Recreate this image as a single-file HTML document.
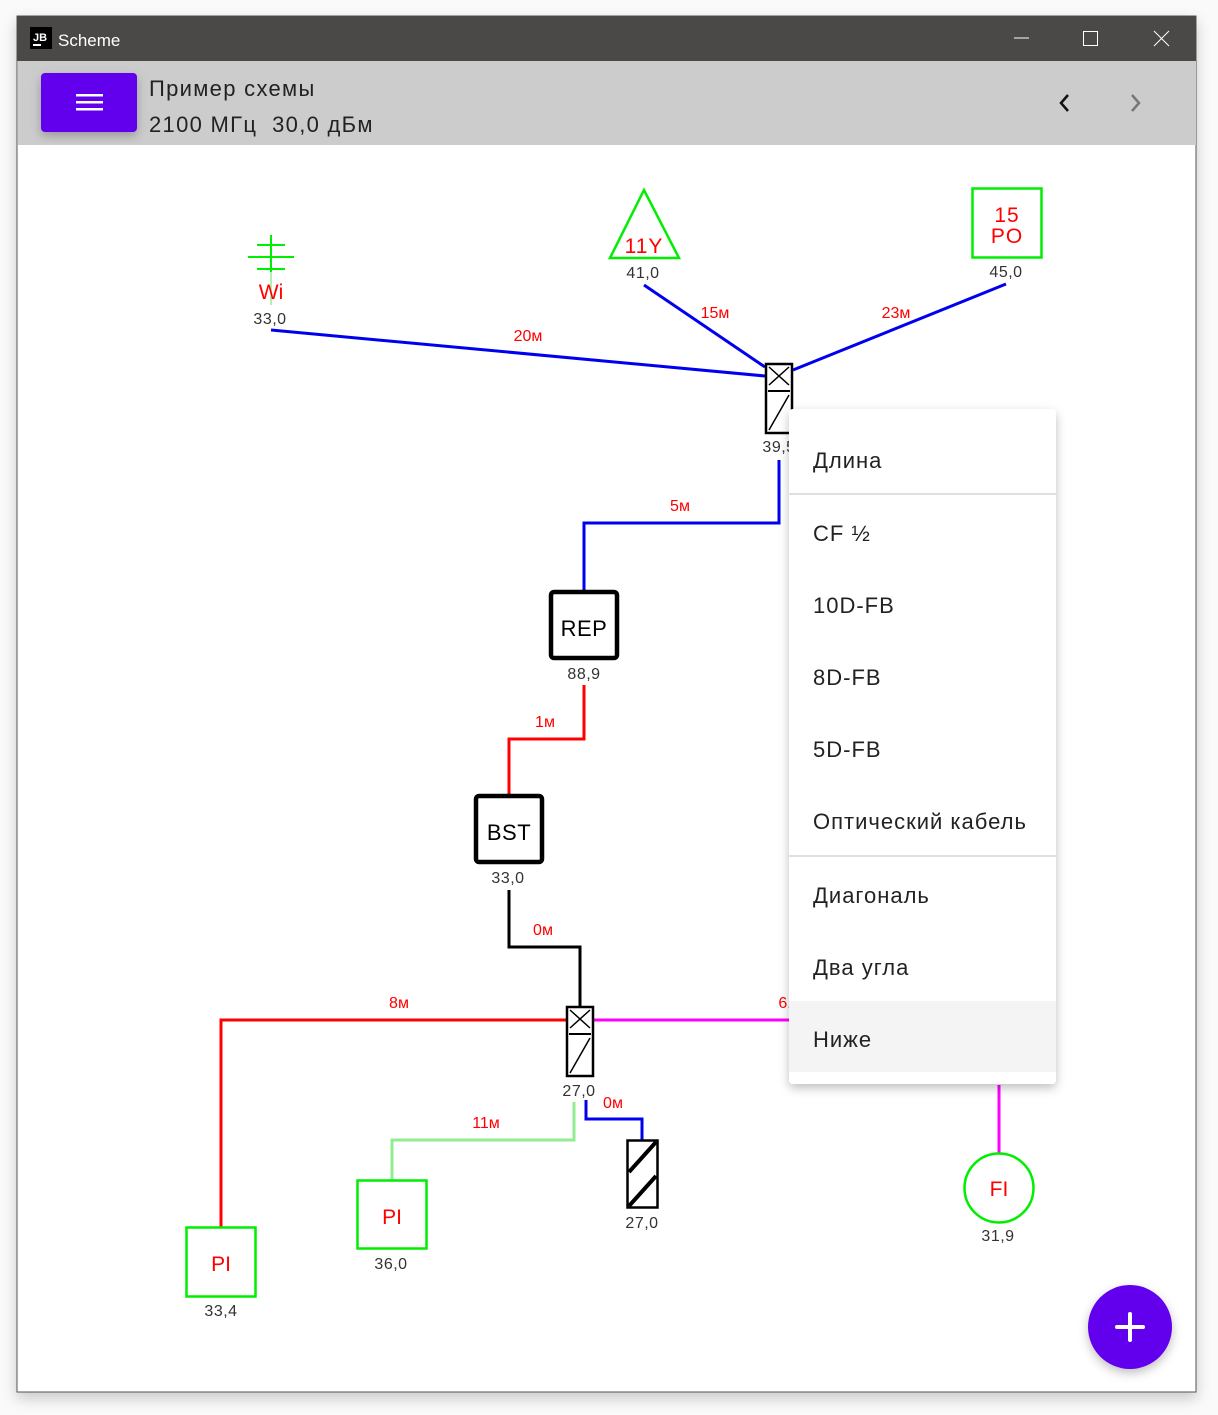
<!DOCTYPE html>
<html><head><meta charset="utf-8"><style>
body{margin:0;width:1218px;height:1415px;background:#fff;overflow:hidden;font-family:"Liberation Sans","DejaVu Sans",sans-serif}
svg{position:absolute;left:0;top:0}
</style></head><body>
<svg width="1218" height="1415" viewBox="0 0 1218 1415" xmlns="http://www.w3.org/2000/svg" font-family="Liberation Sans, DejaVu Sans, sans-serif">
<defs>
<filter id="sh" x="-20%" y="-20%" width="140%" height="140%"><feDropShadow dx="0" dy="4" stdDeviation="5" flood-color="#000" flood-opacity="0.25"/></filter>
<filter id="wsh" x="-5%" y="-5%" width="110%" height="110%"><feDropShadow dx="0" dy="6" stdDeviation="7" flood-color="#000" flood-opacity="0.2"/></filter>
</defs>
<rect x="0" y="0" width="1218" height="1415" fill="#fafafa"/>
<rect x="17" y="16" width="1179" height="1376" fill="#fff" stroke="#555" stroke-width="1" filter="url(#wsh)"/>
<rect x="17" y="16" width="1179" height="45" fill="#4a4948"/>
<rect x="30" y="27" width="22" height="22" fill="#000"/>
<text x="33" y="41" font-size="11" font-weight="bold" fill="#fff">JB</text>
<rect x="33" y="44" width="8" height="2" fill="#fff"/>
<text x="58" y="46" font-size="17" fill="#fff">Scheme</text>
<line x1="1014" y1="38" x2="1029" y2="38" stroke="#fff" stroke-width="1"/>
<rect x="1083.5" y="31.5" width="14" height="14" fill="none" stroke="#fff" stroke-width="1"/>
<path d="M1154 31 L1169 46 M1169 31 L1154 46" stroke="#fff" stroke-width="1"/>
<rect x="18" y="61" width="1178" height="84" fill="#cccccc"/>
<rect x="41" y="73" width="96" height="59" rx="4" fill="#6200ee" filter="url(#sh)"/>
<rect x="76" y="94" width="27" height="2.5" fill="#fff"/>
<rect x="76" y="101" width="27" height="2.5" fill="#fff"/>
<rect x="76" y="108" width="27" height="2.5" fill="#fff"/>
<text x="149" y="96" font-size="22" fill="#222" letter-spacing="1.3">Пример схемы</text>
<text x="149" y="132" font-size="22" fill="#222" letter-spacing="1.3" xml:space="preserve">2100 МГц  30,0 дБм</text>
<path d="M1068 95 L1061 103 L1068 111" fill="none" stroke="#111" stroke-width="2.5"/>
<path d="M1132 95 L1139 103 L1132 111" fill="none" stroke="#777" stroke-width="2.5"/>

<g fill="none" stroke-width="3">
<line x1="271" y1="330" x2="765" y2="376" stroke="#0000ee"/>
<line x1="644" y1="285" x2="765" y2="367" stroke="#0000ee"/>
<line x1="1006" y1="284" x2="793" y2="370" stroke="#0000ee"/>
<polyline points="779,460 779,523 584,523 584,590" stroke="#0000ee"/>
<polyline points="584,685 584,739 509,739 509,795" stroke="#ff0000"/>
<polyline points="509,890 509,947 580,947 580,1007" stroke="#000"/>
<polyline points="566,1020 221,1020 221,1227" stroke="#ff0000"/>
<line x1="594" y1="1020" x2="790" y2="1020" stroke="#ff00ff"/>
<line x1="999" y1="1085" x2="999" y2="1153" stroke="#ff00ff"/>
<polyline points="574,1102 574,1140 392,1140 392,1180" stroke="#90ee90"/>
<polyline points="586,1100 586,1119 642,1119 642,1140" stroke="#0000ee"/>
</g>
<g font-size="16" fill="#ff0000" text-anchor="middle">
<text x="528" y="341">20м</text>
<text x="715" y="318">15м</text>
<text x="896" y="318">23м</text>
<text x="680" y="511">5м</text>
<text x="545" y="727">1м</text>
<text x="543" y="935">0м</text>
<text x="399" y="1008">8м</text>
<text x="785" y="1008">6.</text>
<text x="486" y="1128">11м</text>
<text x="613" y="1108">0м</text>
</g>

<g stroke="#00ee00" stroke-width="2">
<line x1="271" y1="235" x2="271" y2="272"/>
<line x1="257" y1="245" x2="285" y2="245"/>
<line x1="248" y1="257" x2="294" y2="257"/>
<line x1="257" y1="269" x2="285" y2="269"/>
</g>
<line x1="271" y1="272" x2="271" y2="305" stroke="#b0f0b0" stroke-width="2"/>
<text x="271" y="299" font-size="21" fill="#ff0000" text-anchor="middle">Wi</text>

<polygon points="644,190 610,258 679,258" fill="none" stroke="#00ee00" stroke-width="2.5"/>
<text x="644" y="253" font-size="21" fill="#ff0000" text-anchor="middle" letter-spacing="1">11Y</text>
<rect x="972.5" y="188.5" width="69" height="69" fill="none" stroke="#00ee00" stroke-width="2.5"/>
<text x="1007" y="222" font-size="21" fill="#ff0000" text-anchor="middle" letter-spacing="1">15</text>
<text x="1007" y="243" font-size="21" fill="#ff0000" text-anchor="middle" letter-spacing="1">PO</text>

<g stroke="#000" fill="#fff">
<rect x="766" y="364" width="26" height="69" stroke-width="2.5"/>
<path d="M769 367 L789 385 M789 367 L769 385" stroke-width="1.5" fill="none"/>
<line x1="768" y1="391" x2="790" y2="391" stroke-width="2"/>
<line x1="789" y1="395" x2="769" y2="430" stroke-width="1.5"/>
</g>
<g stroke="#000" fill="#fff">
<rect x="567" y="1007" width="26" height="69" stroke-width="2.5"/>
<path d="M570 1010 L590 1028 M590 1010 L570 1028" stroke-width="1.5" fill="none"/>
<line x1="569" y1="1034" x2="591" y2="1034" stroke-width="2"/>
<line x1="590" y1="1038" x2="570" y2="1073" stroke-width="1.5"/>
</g>
<rect x="627.5" y="1140.5" width="30" height="67" fill="#fff" stroke="#000" stroke-width="2.5"/>
<path d="M656 1142 L629 1172 M656 1176 L629 1206" stroke="#000" stroke-width="4"/>

<rect x="551" y="592" width="66" height="66" rx="3" fill="#fff" stroke="#000" stroke-width="4.5"/>
<text x="584" y="636" font-size="22" fill="#000" text-anchor="middle" letter-spacing="0.5">REP</text>
<rect x="476" y="796" width="66" height="66" rx="3" fill="#fff" stroke="#000" stroke-width="4.5"/>
<text x="509" y="840" font-size="22" fill="#000" text-anchor="middle" letter-spacing="0.5">BST</text>

<rect x="186.5" y="1227.5" width="69" height="69" fill="#fff" stroke="#00ee00" stroke-width="2.5"/>
<text x="221" y="1271" font-size="21" fill="#ff0000" text-anchor="middle">PI</text>
<rect x="357.5" y="1180.5" width="69" height="68" fill="#fff" stroke="#00ee00" stroke-width="2.5"/>
<text x="392" y="1224" font-size="21" fill="#ff0000" text-anchor="middle">PI</text>
<circle cx="999" cy="1188" r="34.5" fill="#fff" stroke="#00ee00" stroke-width="2.5"/>
<text x="999" y="1196" font-size="21" fill="#ff0000" text-anchor="middle">FI</text>

<g font-size="16" fill="#333" text-anchor="middle" letter-spacing="0.5">
<text x="270" y="324">33,0</text>
<text x="643" y="278">41,0</text>
<text x="1006" y="277">45,0</text>
<text x="779" y="452">39,5</text>
<text x="584" y="679">88,9</text>
<text x="508" y="883">33,0</text>
<text x="579" y="1096">27,0</text>
<text x="642" y="1228">27,0</text>
<text x="221" y="1316">33,4</text>
<text x="391" y="1269">36,0</text>
<text x="998" y="1241">31,9</text>
</g>

<rect x="789" y="409" width="267" height="675" rx="4" fill="#fff" filter="url(#sh)"/>
<rect x="789" y="1001" width="267" height="71" fill="#f4f4f4"/>
<line x1="789" y1="494" x2="1056" y2="494" stroke="#e0e0e0" stroke-width="2"/>
<line x1="789" y1="856" x2="1056" y2="856" stroke="#e0e0e0" stroke-width="2"/>
<g font-size="22" fill="#222" letter-spacing="1">
<text x="813" y="468">Длина</text>
<text x="813" y="541">CF ½</text>
<text x="813" y="613">10D-FB</text>
<text x="813" y="685">8D-FB</text>
<text x="813" y="757">5D-FB</text>
<text x="813" y="829">Оптический кабель</text>
<text x="813" y="903">Диагональ</text>
<text x="813" y="975">Два угла</text>
<text x="813" y="1047">Ниже</text>
</g>

<circle cx="1130" cy="1327" r="42" fill="#6200ee" filter="url(#sh)"/>
<path d="M1130 1314 V1340 M1117 1327 H1143" stroke="#fff" stroke-width="4" stroke-linecap="round"/>
</svg>
</body></html>
